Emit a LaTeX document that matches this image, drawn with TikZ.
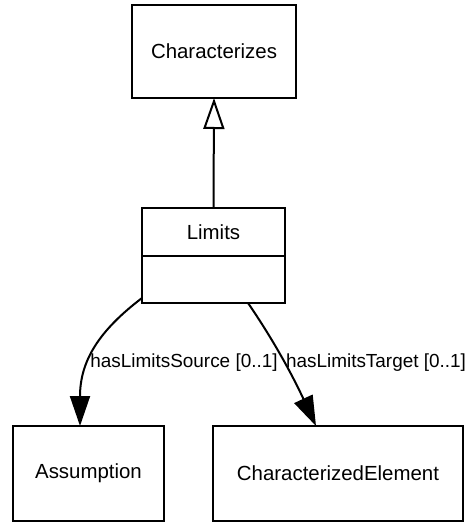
\documentclass[tikz,border=0pt]{standalone}
\usepackage{fontspec}
\setmainfont{Liberation Sans}
\usetikzlibrary{arrows.meta}
\begin{document}
\begin{tikzpicture}[x=1bp,y=-1bp,
  line width=2bp,
  umlclass/.style={draw=black, rectangle, inner sep=0pt, outer sep=0pt,
    font=\fontsize{20.5}{24}\selectfont},
  assoclabel/.style={font=\fontsize{19}{22}\selectfont, inner sep=1pt},
  assoc/.style={-{Triangle[length=30bp,width=20bp]}},
  generalization/.style={-{Triangle[open,length=31bp,width=21bp]}}]
\useasboundingbox (0,0) rectangle (473,523);

% classes
\node[umlclass, minimum width=164bp, minimum height=93bp] (characterizes) at (214,51.5) {Characterizes};
\node[umlclass, minimum width=143bp, minimum height=48bp] (limits) at (213.5,232) {Limits};
\node[umlclass, minimum width=143bp, minimum height=47bp, anchor=north] (limitsattr) at (limits.south) {};
\node[umlclass, minimum width=151bp, minimum height=95bp] (assumption) at (88.5,473.5) {Assumption};
\node[umlclass, minimum width=250bp, minimum height=95bp] (element) at (338,473.5) {CharacterizedElement};

% inheritance
\draw[generalization] (limits.north) -- (characterizes.south);

% associations
\coordinate (srcstart) at ([yshift=-42bp]limitsattr.north west);
\coordinate (tgtstart) at ([xshift=34.5bp]limitsattr.south);
\coordinate (srcend) at ([xshift=-8.5bp]assumption.north);
\coordinate (tgtend) at ([xshift=-22bp]element.north);
\draw[assoc] (srcstart) .. controls (100,330) and (80,360) .. (srcend);
\draw[assoc] (tgtstart) .. controls (270,335) and (290,370) .. (tgtend);

% role labels
\node[assoclabel] (srclabel) at (184,363) {hasLimitsSource [0..1]};
\node[assoclabel] (tgtlabel) at (376,363) {hasLimitsTarget [0..1]};
\end{tikzpicture}
\end{document}
